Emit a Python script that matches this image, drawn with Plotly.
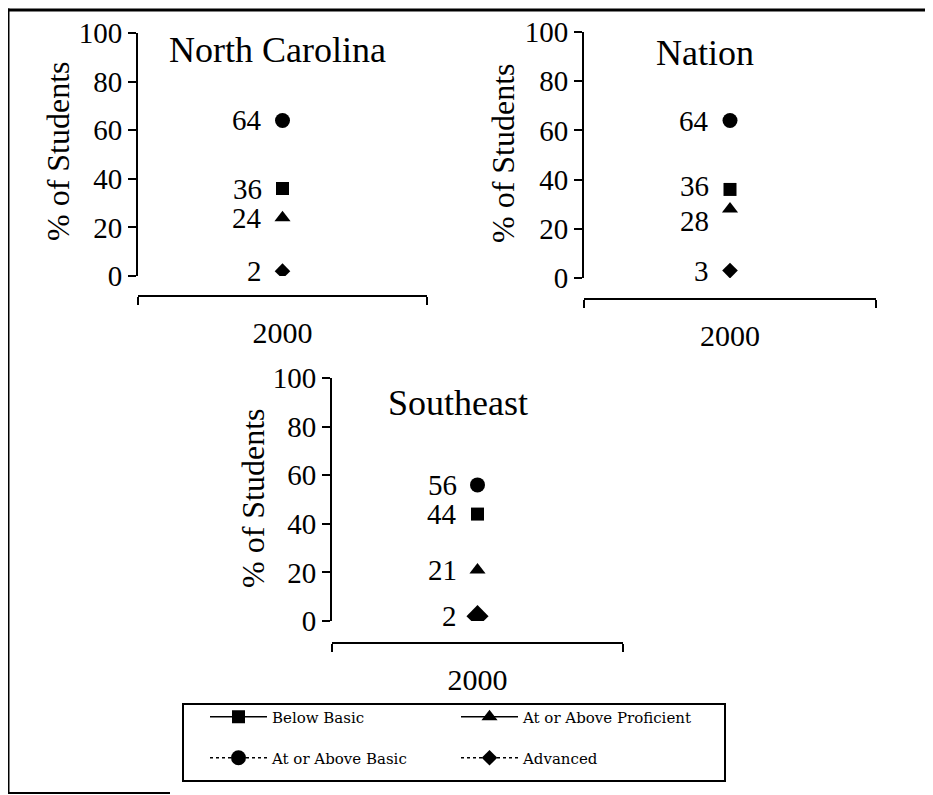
import plotly.graph_objects as go

W, H = 933, 795
OFF = 8  # page body margin of the html page


def fx(x):
    return (x - OFF) / W


def fy(y):
    return 1 - (y - OFF) / H


# ---------------- data ----------------
panels = ["North Carolina", "Nation", "Southeast"]
years = [2000]
series_names = ["Below Basic", "At or Above Proficient", "At or Above Basic", "Advanced"]
below_basic = [36, 36, 44]
at_above_proficient = [24, 28, 21]
at_above_basic = [64, 64, 56]
advanced = [2, 3, 2]
y_ticks = [0, 20, 40, 60, 80, 100]
y_title = "% of Students"

values = {
    "Below Basic": below_basic,
    "At or Above Proficient": at_above_proficient,
    "At or Above Basic": at_above_basic,
    "Advanced": advanced,
}

# ---------------- styles / geometry (pixels) ----------------
geom = [
    dict(xl=138, xr=427, y0=276, y100=33, xax=296, title=(277, 50), ytitle=(58, 151)),
    dict(xl=584, xr=876, y0=278, y100=32, xax=299, title=(705, 53), ytitle=(503, 153)),
    dict(xl=332, xr=623, y0=621, y100=378, xax=643, title=(458, 403), ytitle=(253, 498)),
]
style = {
    "Below Basic": dict(symbol="square", size=13, dash="solid", legend="legend"),
    "At or Above Proficient": dict(symbol="triangle-up", size=14, dash="solid", legend="legend"),
    "At or Above Basic": dict(symbol="circle", size=15, dash="dot", legend="legend2"),
    "Advanced": dict(symbol="diamond", size=12, dash="dot", legend="legend2"),
}
diamond_sizes = [12, 12, 17]
label_yshift = {(1, "Below Basic"): 3, (1, "At or Above Proficient"): -12}

SERIF = "Liberation Serif, Times New Roman, serif"

fig = go.Figure()
annotations = []

for i, name in enumerate(panels):
    ax = "" if i == 0 else str(i + 1)
    g = geom[i]
    for s in series_names:
        st = style[s]
        size = diamond_sizes[i] if s == "Advanced" else st["size"]
        fig.add_trace(
            go.Scatter(
                x=years,
                y=[values[s][i]],
                mode="lines+markers",
                name=s,
                legend=st["legend"],
                legendgroup=s,
                showlegend=(i == 0),
                marker=dict(symbol=st["symbol"], size=size, color="black"),
                line=dict(color="black", width=1.5, dash=st["dash"]),
                xaxis="x" + ax,
                yaxis="y" + ax,
            )
        )
        annotations.append(
            dict(
                x=years[0], y=values[s][i], xref="x" + ax, yref="y" + ax,
                text=str(values[s][i]), showarrow=False, xanchor="right",
                xshift=-19, yshift=label_yshift.get((i, s), 0),
                font=dict(family=SERIF, size=29, color="black"),
            )
        )
    fig.update_layout(
        {
            "xaxis" + ax: dict(
                domain=[fx(g["xl"]), fx(g["xr"])],
                range=[1999, 2001],
                anchor="free",
                position=fy(g["xax"]),
                tickvals=years,
                ticktext=[str(y) for y in years],
                ticks="",
                showline=True, linecolor="black", linewidth=2,
                showgrid=False, zeroline=False,
                minor=dict(tickvals=[1999, 2001], ticks="outside", ticklen=8,
                           tickwidth=2, tickcolor="black", showgrid=False),
                tickfont=dict(family=SERIF, size=30, color="black"),
                ticklabelstandoff=10,
                automargin=False,
                fixedrange=True,
            ),
            "yaxis" + ax: dict(
                domain=[fy(g["y0"]), fy(g["y100"])],
                range=[0, 100],
                anchor="x" + ax,
                tickvals=y_ticks,
                ticks="outside", ticklen=8, tickwidth=1.5, tickcolor="black",
                showline=True, linecolor="black", linewidth=2,
                showgrid=False, zeroline=False,
                tickfont=dict(family=SERIF, size=29, color="black"),
                automargin=False,
                fixedrange=True,
            ),
        }
    )
    annotations.append(
        dict(x=fx(g["title"][0]), y=fy(g["title"][1]), xref="paper", yref="paper",
             text=name, showarrow=False, xanchor="center", yanchor="middle",
             font=dict(family=SERIF, size=36, color="black"))
    )
    annotations.append(
        dict(x=fx(g["ytitle"][0]), y=fy(g["ytitle"][1]), xref="paper", yref="paper",
             text=y_title, textangle=-90, showarrow=False, xanchor="center", yanchor="middle",
             font=dict(family=SERIF, size=32, color="black"))
    )

legend_common = dict(
    orientation="h", xanchor="left", yanchor="middle",
    entrywidth=179, entrywidthmode="pixels", itemwidth=57,
    bgcolor="rgba(0,0,0,0)", borderwidth=0,
    font=dict(family="DejaVu Serif, serif", size=15, color="black"),
    itemclick=False, itemdoubleclick=False,
)

shapes = [
    # legend frame
    dict(type="rect", xref="paper", yref="paper", x0=fx(183), x1=fx(725), y0=fy(781), y1=fy(704),
         line=dict(color="black", width=2)),
    # page frame (scanned border)
    dict(type="line", xref="paper", yref="paper", x0=fx(0), x1=fx(941), y0=fy(10), y1=fy(10),
         line=dict(color="black", width=3)),
    dict(type="line", xref="paper", yref="paper", x0=fx(8), x1=fx(8), y0=fy(8.5), y1=fy(793),
         line=dict(color="black", width=3)),
    dict(type="line", xref="paper", yref="paper", x0=fx(7), x1=fx(170), y0=fy(793), y1=fy(793),
         line=dict(color="black", width=2)),
]

fig.update_layout(
    width=W, height=H,
    margin=dict(l=0, r=0, t=0, b=0),
    paper_bgcolor="white", plot_bgcolor="white",
    annotations=annotations,
    shapes=shapes,
    legend=dict(x=fx(205), y=fy(717), **legend_common),
    legend2=dict(x=fx(205), y=fy(758), **legend_common),
    font=dict(family=SERIF, color="black"),
)

fig.write_html("out.html")
